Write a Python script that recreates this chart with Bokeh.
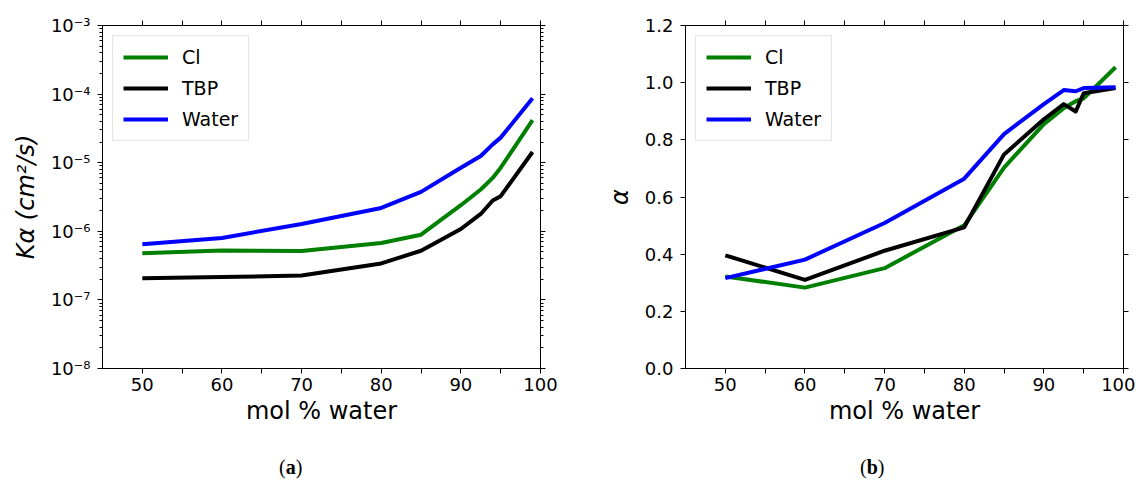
from bokeh.plotting import figure
from bokeh.models import (FixedTicker, LinearAxis, LogAxis, Range1d, Legend,
                          LegendItem, Div, CustomJSTickFormatter, PrintfTickFormatter)
from bokeh.layouts import row, column
from bokeh.embed import file_html
from bokeh.resources import INLINE

# ---------------- data ----------------
mol_water = [50, 60, 70, 80, 85, 90, 92.5, 94, 95, 99]

k_cl = [4.8e-7, 5.27e-7, 5.15e-7, 6.75e-7, 8.93e-7, 2.4e-6, 4.07e-6, 6.0e-6, 8.45e-6, 4.17e-5]
k_tbp = [2.07e-7, 2.15e-7, 2.27e-7, 3.40e-7, 5.21e-7, 1.08e-6, 1.79e-6, 2.81e-6, 3.25e-6, 1.43e-5]
k_water = [6.5e-7, 8.0e-7, 1.28e-6, 2.19e-6, 3.76e-6, 8.45e-6, 1.25e-5, 1.85e-5, 2.32e-5, 8.7e-5]

a_cl = [0.322, 0.283, 0.351, 0.501, 0.703, 0.855, 0.911, 0.935, 0.945, 1.054]
a_tbp = [0.396, 0.310, 0.412, 0.494, 0.749, 0.872, 0.925, 0.899, 0.963, 0.981]
a_water = [0.316, 0.381, 0.509, 0.664, 0.820, 0.925, 0.974, 0.970, 0.981, 0.984]

series_names = ["Cl", "TBP", "Water"]
series_colors = ["#008000", "#000000", "#0000ff"]

x_ticks = [50, 60, 70, 80, 90, 100]
x_minor_ticks = [55, 65, 75, 85, 95]
log_ticks = [1e-8, 1e-7, 1e-6, 1e-5, 1e-4, 1e-3]
log_minor_ticks = [m * t for t in log_ticks[:-1] for m in range(2, 10)]
alpha_ticks = [0.0, 0.2, 0.4, 0.6, 0.8, 1.0, 1.2]

x_label = "mol % water"
k_label = "Kα (cm²/s)"
a_label = "α"
caption_letters = ["a", "b"]

FONT = "DejaVu Sans"

sup_formatter = CustomJSTickFormatter(code="""
const sup = {'-':'\u207b','0':'\u2070','1':'\u00b9','2':'\u00b2','3':'\u00b3','4':'\u2074',
             '5':'\u2075','6':'\u2076','7':'\u2077','8':'\u2078','9':'\u2079'};
const e = Math.round(Math.log10(tick));
return '10' + String(e).split('').map(c => sup[c]).join('');
""")

blank_formatter = CustomJSTickFormatter(code="return '';")


def style_axis(ax, labels=True):
    ax.axis_line_color = "black"
    ax.major_tick_line_color = "black"
    ax.minor_tick_line_color = "black"
    ax.major_tick_in = 0
    ax.major_tick_out = 5
    ax.minor_tick_in = 0
    ax.minor_tick_out = 3
    ax.major_label_text_font = FONT
    ax.major_label_text_color = "black"
    ax.axis_label_text_font = FONT
    ax.axis_label_text_color = "black"
    if labels:
        ax.major_label_text_font_size = "18px"
    else:
        ax.formatter = blank_formatter
        ax.major_label_text_font_size = "2px"
        ax.major_label_standoff = 0


def make_fig(width, border_left, border_right, log):
    kw = dict(width=width, height=452, output_backend="svg", toolbar_location=None,
              x_range=Range1d(45, 100),
              min_border_left=border_left, min_border_right=border_right,
              min_border_top=25, min_border_bottom=84,
              background_fill_color="white", border_fill_color="white")
    if log:
        p = figure(y_axis_type="log", y_range=Range1d(1e-8, 1e-3), **kw)
    else:
        p = figure(y_range=Range1d(0.0, 1.2), **kw)
    p.xgrid.visible = False
    p.ygrid.visible = False
    p.outline_line_color = "black"
    p.outline_line_width = 1
    p.outline_line_alpha = 1.0

    xt = FixedTicker(ticks=x_ticks, minor_ticks=x_minor_ticks)
    if log:
        yt = FixedTicker(ticks=log_ticks, minor_ticks=log_minor_ticks)
    else:
        yt = FixedTicker(ticks=alpha_ticks)

    p.xaxis.ticker = xt
    p.yaxis.ticker = yt
    style_axis(p.xaxis[0])
    style_axis(p.yaxis[0])
    p.xaxis.minor_tick_out = 5
    p.xaxis.major_label_standoff = 4
    p.yaxis.major_label_standoff = 7
    p.xaxis.axis_label = x_label
    p.xaxis.axis_label_text_font_size = "24px"
    p.xaxis.axis_label_text_font_style = "normal"
    p.xaxis.axis_label_standoff = 3
    p.yaxis.axis_label_text_font_size = "24px"
    p.yaxis.axis_label_text_font_style = "italic"
    p.yaxis.axis_label_standoff = 8
    if log:
        p.yaxis.formatter = sup_formatter
    else:
        p.yaxis.formatter = PrintfTickFormatter(format="%.1f")
        p.yaxis.minor_tick_out = 0

    top = LinearAxis(ticker=FixedTicker(ticks=x_ticks, minor_ticks=x_minor_ticks))
    style_axis(top, labels=False)
    top.minor_tick_out = 5
    p.add_layout(top, "above")
    if log:
        right = LogAxis(ticker=FixedTicker(ticks=log_ticks, minor_ticks=log_minor_ticks))
    else:
        right = LinearAxis(ticker=FixedTicker(ticks=alpha_ticks))
    style_axis(right, labels=False)
    if not log:
        right.minor_tick_out = 0
    p.add_layout(right, "right")
    return p


def add_lines(p, ys):
    items = []
    for name, color, y in zip(series_names, series_colors, ys):
        r = p.line(mol_water, y, line_color=color, line_width=4, line_join="round")
        items.append(LegendItem(label=name, renderers=[r]))
    leg = Legend(items=items, location="top_left", margin=10, padding=10,
                 spacing=9, glyph_width=45, glyph_height=20, label_height=20,
                 label_standoff=14, label_text_font=FONT, label_text_font_size="19px",
                 label_text_color="black",
                 border_line_color="#cccccc", border_line_width=1,
                 background_fill_color="white", background_fill_alpha=0.8)
    p.add_layout(leg)


def caption_div(letter, width, pad_left):
    return Div(text="(<b>%s</b>)" % letter, width=width, height=30,
               styles={"font-family": "'Liberation Serif', serif", "font-size": "20px",
                       "color": "black", "padding-left": "%dpx" % pad_left,
                       "padding-top": "0px", "line-height": "20px",
                       "box-sizing": "border-box"})


p1 = make_fig(590, 102, 50, True)
p1.yaxis[0].axis_label = k_label
add_lines(p1, [k_cl, k_tbp, k_water])

p2 = make_fig(545, 95, 12, False)
p2.yaxis[0].axis_label = a_label
add_lines(p2, [a_cl, a_tbp, a_water])

cap1 = caption_div(caption_letters[0], 590, 274)
cap2 = caption_div(caption_letters[1], 545, 255)

layout = column(row(p1, p2), row(cap1, cap2))
open("out.html", "w").write(file_html(layout, INLINE))
